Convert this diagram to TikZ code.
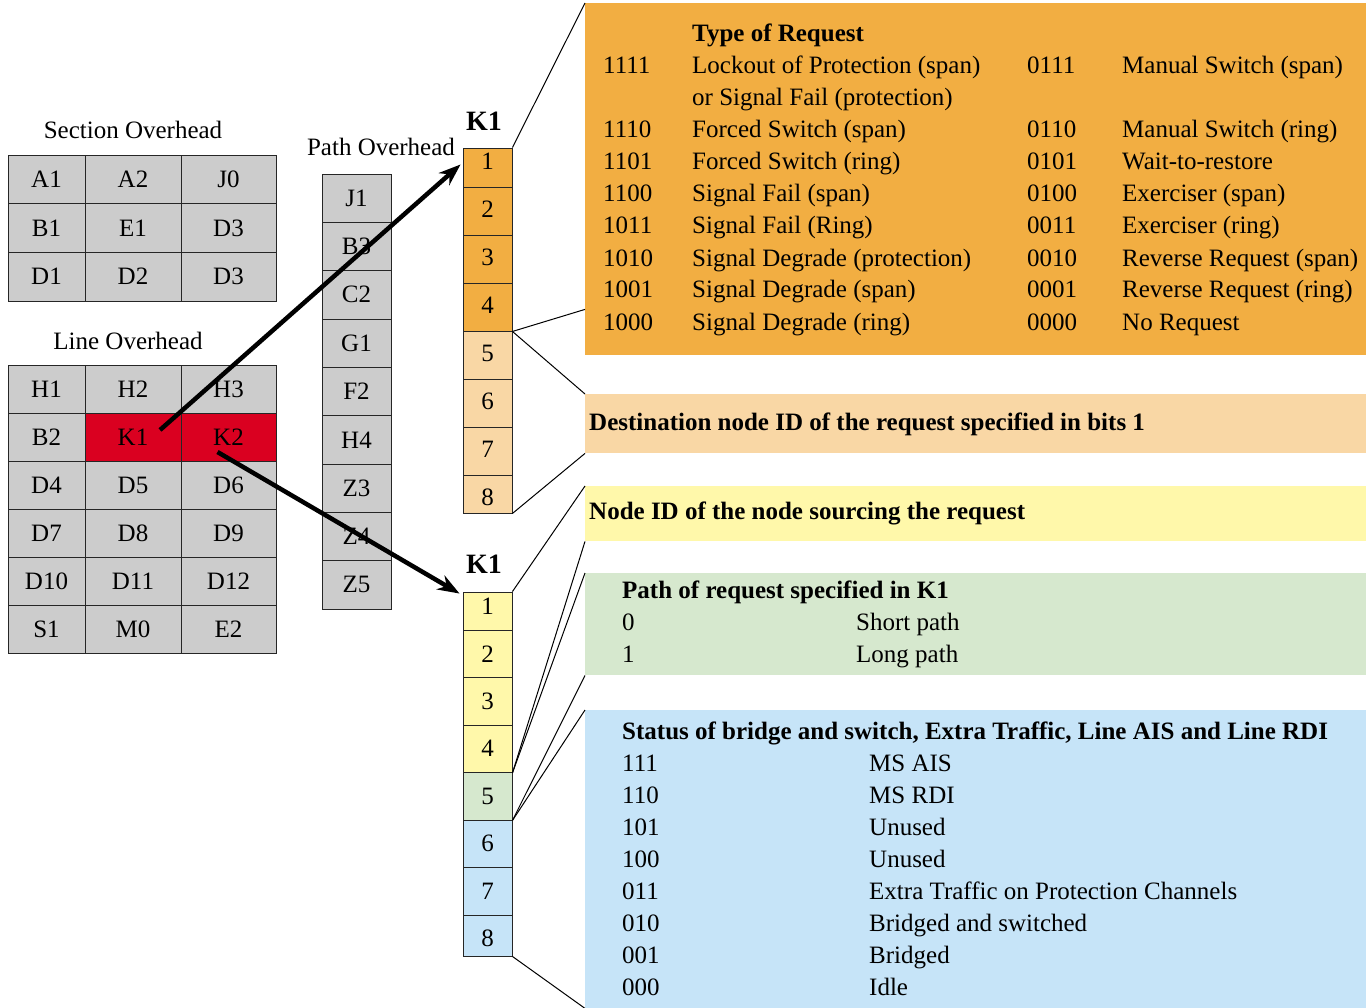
\documentclass[tikz,border=0pt]{standalone}
\usepackage{fontspec}
\setmainfont{Liberation Serif}
\usepackage{xcolor}
\usetikzlibrary{positioning,calc,arrows.meta}

\definecolor{ohgray}{RGB}{204,204,204}
\definecolor{ohred}{RGB}{218,0,32}
\definecolor{reqor}{RGB}{242,174,66}
\definecolor{dstor}{RGB}{249,215,165}
\definecolor{nidyel}{RGB}{255,248,170}
\definecolor{pthgrn}{RGB}{214,232,206}
\definecolor{stsblu}{RGB}{198,228,248}

\begin{document}
\begin{tikzpicture}[
    x=1pt, y=-1pt,
    font=\fontsize{25}{30}\selectfont,
    cell/.style={draw=black!85, fill=ohgray, line width=0.9pt, inner sep=0pt},
    bit/.style={draw=black!85, line width=0.9pt, inner sep=0pt, minimum width=49pt},
    info/.style={anchor=north west, inner sep=0pt, minimum width=781pt},
    txt/.style={anchor=base west, inner sep=0pt},
    head/.style={txt, font=\fontsize{25}{30}\selectfont\bfseries},
    kname/.style={font=\fontsize{28}{30}\selectfont\bfseries, inner sep=0pt},
    link/.style={line width=1pt},
    zoomarrow/.style={line width=4.5pt, -{Stealth[length=22pt, width=16pt]}}
]
    \useasboundingbox (0,0) rectangle (1370,1008);

    % Section overhead
    \node (secoh) at (133,130) {Section Overhead};
    \foreach \r/\a/\b/\c in {1/A1/A2/J0, 2/B1/E1/D3, 3/D1/D2/D3} {
        \node [cell, minimum width=77pt, minimum height=48.67pt] (s\r a) at (46.5, {155+48.67*\r-24.33}) {\a};
        \node [cell, minimum width=96pt, minimum height=48.67pt] (s\r b) at (133, {155+48.67*\r-24.33}) {\b};
        \node [cell, minimum width=95pt, minimum height=48.67pt] (s\r c) at (228.5, {155+48.67*\r-24.33}) {\c};
    }

    % Line overhead
    \node (linoh) at (128,341) {Line Overhead};
    \foreach \r/\a/\b/\c/\fc in {1/H1/H2/H3/ohgray, 2/B2/K1/K2/ohred, 3/D4/D5/D6/ohgray, 4/D7/D8/D9/ohgray, 5/D10/D11/D12/ohgray, 6/S1/M0/E2/ohgray} {
        \node [cell, minimum width=77pt, minimum height=48pt] (l\r a) at (46.5, {365+48*\r-24}) {\a};
        \node [cell, fill=\fc, minimum width=96pt, minimum height=48pt] (l\r b) at (133, {365+48*\r-24}) {\b};
        \node [cell, fill=\fc, minimum width=95pt, minimum height=48pt] (l\r c) at (228.5, {365+48*\r-24}) {\c};
    }

    % Path overhead
    \node (pthoh) at (381,147) {Path Overhead};
    \foreach \lbl [count=\i] in {J1,B3,C2,G1,F2,H4,Z3,Z4,Z5} {
        \node [cell, minimum width=69pt, minimum height=48.33pt] (p\i) at (356.5, {174+48.33*\i-24.17}) {\lbl};
    }

    % K1 byte, upper copy
    \node [kname] (kup) at (484,121) {K1};
    \foreach \i/\top/\bot/\fc in {1/148/187/reqor, 2/187/235/reqor, 3/235/283/reqor, 4/283/331/reqor, 5/331/379/dstor, 6/379/427/dstor, 7/427/475/dstor, 8/475/513/dstor} {
        \pgfmathsetmacro\h{\bot-\top}
        \node [bit, fill=\fc, minimum height=\h pt] (u\i) at (487.5, {(\top+\bot)/2}) {};
        \node [inner sep=0pt] (ul\i) at (487.5, {113+48*\i}) {\i};
    }

    % K1 byte, lower copy
    \node [kname] (klo) at (484,564) {K1};
    \foreach \i/\top/\bot/\fc in {1/592/630/nidyel, 2/630/677.5/nidyel, 3/677.5/725/nidyel, 4/725/772.5/nidyel, 5/772.5/820/pthgrn, 6/820/867.5/stsblu, 7/867.5/915/stsblu, 8/915/956/stsblu} {
        \pgfmathsetmacro\h{\bot-\top}
        \node [bit, fill=\fc, minimum height=\h pt] (d\i) at (487.5, {(\top+\bot)/2}) {};
        \node [inner sep=0pt] (dl\i) at (487.5, {558.75+47.5*\i}) {\i};
    }

    % Explanation boxes
    \node [info, fill=reqor, minimum height=352pt] (req) at (585,3) {};
    \node [info, fill=dstor, minimum height=59pt] (dst) at (585,394) {};
    \node [info, fill=nidyel, minimum height=55pt] (nid) at (585,486) {};
    \node [info, fill=pthgrn, minimum height=102pt] (pth) at (585,573) {};
    \node [info, fill=stsblu, minimum height=298pt] (sts) at (585,710) {};

    % Type of request table
    \node [head] (reqt) at (692,42) {Type of Request};
    \foreach \y/\a/\b/\c/\d [count=\k] in {74/1111/Lockout of Protection (span)/0111/Manual Switch (span),
        138/1110/Forced Switch (span)/0110/Manual Switch (ring),
        170/1101/Forced Switch (ring)/0101/Wait-to-restore,
        202/1100/Signal Fail (span)/0100/Exerciser (span),
        234/1011/Signal Fail (Ring)/0011/Exerciser (ring),
        266/1010/Signal Degrade (protection)/0010/Reverse Request (span),
        298/1001/Signal Degrade (span)/0001/Reverse Request (ring),
        330/1000/Signal Degrade (ring)/0000/No Request} {
        \node [txt] (rqa\k) at (603,\y) {\a};
        \node [txt] (rqb\k) at (692,\y) {\b};
        \node [txt] (rqc\k) at (1027,\y) {\c};
        \node [txt] (rqd\k) at (1122,\y) {\d};
    }
    \node [txt] (rqor) at (692,106) {or Signal Fail (protection)};

    \node [head] (dstt) at (589,430) {Destination node ID of the request specified in bits 1};
    \node [head] (nidt) at (589,519) {Node ID of the node sourcing the request};

    % Path table
    \node [head] (ptht) at (622,598) {Path of request specified in K1};
    \foreach \y/\a/\b [count=\k] in {630/0/Short path, 662/1/Long path} {
        \node [txt] (pta\k) at (622,\y) {\a};
        \node [txt] (ptb\k) at (856,\y) {\b};
    }

    % Status table
    \node [head] (stst) at (622,739) {Status of bridge and switch, Extra Traffic, Line AIS and Line RDI};
    \foreach \a/\b [count=\k from 0] in {111/MS AIS, 110/MS RDI, 101/Unused, 100/Unused, 011/Extra Traffic on Protection Channels, 010/Bridged and switched, 001/Bridged, 000/Idle} {
        \node [txt] (sta\k) at (622, {771+32*\k}) {\a};
        \node [txt] (stb\k) at (869, {771+32*\k}) {\b};
    }

    % Fan-out lines
    \draw [link] (u1.north east) -- (req.north west);
    \draw [link] (u4.south east) -- ([yshift=46pt]req.south west);
    \draw [link] (u4.south east) -- (dst.north west);
    \draw [link] (u8.south east) -- (dst.south west);
    \draw [link] (d1.north east) -- (nid.north west);
    \draw [link] (d4.south east) -- (nid.south west);
    \draw [link] (d4.south east) -- (pth.north west);
    \draw [link] (d5.south east) -- (pth.south west);
    \draw [link] (d5.south east) -- (sts.north west);
    \draw [link] (d8.south east) -- (sts.south west);

    % K1 and K2 arrows
    \draw [zoomarrow] ([xshift=27pt,yshift=7pt]l2b.center) -- ([xshift=-2pt,yshift=3pt]u1.west);
    \draw [zoomarrow] ([xshift=-11pt,yshift=-15pt]l2c.center) -- ([xshift=-3pt,yshift=-2pt]d1.north west);
\end{tikzpicture}
\end{document}
